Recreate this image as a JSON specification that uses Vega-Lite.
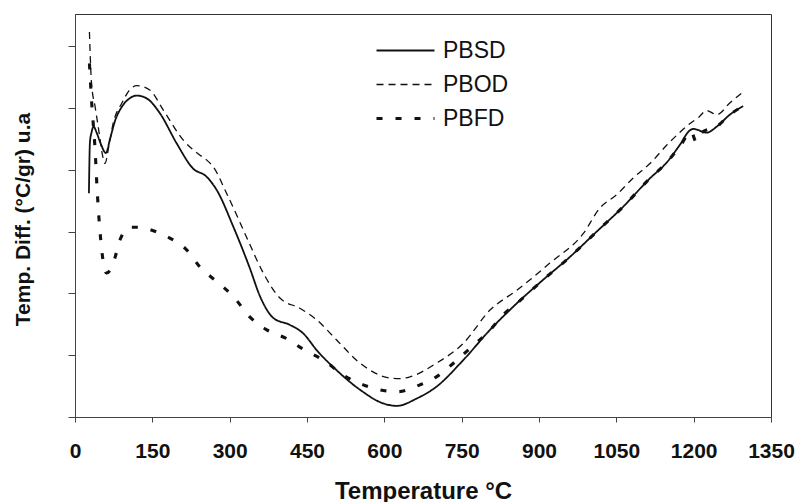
{
  "$schema": "https://vega.github.io/schema/vega-lite/v6.json",
  "width": 696,
  "height": 403,
  "autosize": {"type": "none"},
  "padding": {"left": 75, "top": 14, "right": 26, "bottom": 85},
  "background": "white",
  "config": {"view": {"stroke": "#333", "strokeWidth": 1}, "font": "Liberation Sans"},
  "data": {"values": [
    {"s":"PBSD","T":27,"v":3.62},{"s":"PBSD","T":29,"v":4.45},{"s":"PBSD","T":32,"v":4.60},{"s":"PBSD","T":36,"v":4.70},{"s":"PBSD","T":42,"v":4.60},{"s":"PBSD","T":50,"v":4.42},{"s":"PBSD","T":60,"v":4.27},{"s":"PBSD","T":68,"v":4.50},{"s":"PBSD","T":78,"v":4.80},{"s":"PBSD","T":91,"v":5.02},{"s":"PBSD","T":105,"v":5.15},{"s":"PBSD","T":120,"v":5.20},{"s":"PBSD","T":140,"v":5.15},{"s":"PBSD","T":165,"v":4.91},{"s":"PBSD","T":197,"v":4.43},{"s":"PBSD","T":229,"v":4.02},{"s":"PBSD","T":255,"v":3.89},{"s":"PBSD","T":275,"v":3.67},{"s":"PBSD","T":307,"v":3.08},{"s":"PBSD","T":339,"v":2.41},{"s":"PBSD","T":359,"v":1.95},{"s":"PBSD","T":385,"v":1.60},{"s":"PBSD","T":417,"v":1.49},{"s":"PBSD","T":443,"v":1.35},{"s":"PBSD","T":469,"v":1.08},{"s":"PBSD","T":507,"v":0.76},{"s":"PBSD","T":553,"v":0.44},{"s":"PBSD","T":598,"v":0.22},{"s":"PBSD","T":624,"v":0.18},{"s":"PBSD","T":663,"v":0.30},{"s":"PBSD","T":701,"v":0.49},{"s":"PBSD","T":753,"v":0.92},{"s":"PBSD","T":805,"v":1.41},{"s":"PBSD","T":857,"v":1.84},{"s":"PBSD","T":908,"v":2.22},{"s":"PBSD","T":960,"v":2.59},{"s":"PBSD","T":1012,"v":3.00},{"s":"PBSD","T":1063,"v":3.40},{"s":"PBSD","T":1115,"v":3.86},{"s":"PBSD","T":1148,"v":4.12},{"s":"PBSD","T":1173,"v":4.40},{"s":"PBSD","T":1193,"v":4.64},{"s":"PBSD","T":1200,"v":4.66},{"s":"PBSD","T":1225,"v":4.60},{"s":"PBSD","T":1245,"v":4.70},{"s":"PBSD","T":1270,"v":4.89},{"s":"PBSD","T":1296,"v":5.03},
    {"s":"PBOD","T":28,"v":6.23},{"s":"PBOD","T":32,"v":5.40},{"s":"PBOD","T":39,"v":5.02},{"s":"PBOD","T":45,"v":4.70},{"s":"PBOD","T":54,"v":4.21},{"s":"PBOD","T":58,"v":4.10},{"s":"PBOD","T":66,"v":4.40},{"s":"PBOD","T":74,"v":4.75},{"s":"PBOD","T":91,"v":5.08},{"s":"PBOD","T":105,"v":5.28},{"s":"PBOD","T":120,"v":5.36},{"s":"PBOD","T":145,"v":5.29},{"s":"PBOD","T":171,"v":4.97},{"s":"PBOD","T":210,"v":4.48},{"s":"PBOD","T":240,"v":4.25},{"s":"PBOD","T":255,"v":4.16},{"s":"PBOD","T":268,"v":4.05},{"s":"PBOD","T":294,"v":3.62},{"s":"PBOD","T":336,"v":2.85},{"s":"PBOD","T":362,"v":2.38},{"s":"PBOD","T":398,"v":1.92},{"s":"PBOD","T":436,"v":1.76},{"s":"PBOD","T":469,"v":1.57},{"s":"PBOD","T":507,"v":1.25},{"s":"PBOD","T":553,"v":0.87},{"s":"PBOD","T":611,"v":0.63},{"s":"PBOD","T":630,"v":0.62},{"s":"PBOD","T":650,"v":0.65},{"s":"PBOD","T":701,"v":0.87},{"s":"PBOD","T":753,"v":1.19},{"s":"PBOD","T":805,"v":1.73},{"s":"PBOD","T":857,"v":2.05},{"s":"PBOD","T":921,"v":2.49},{"s":"PBOD","T":986,"v":2.97},{"s":"PBOD","T":1018,"v":3.38},{"s":"PBOD","T":1051,"v":3.60},{"s":"PBOD","T":1083,"v":3.87},{"s":"PBOD","T":1115,"v":4.10},{"s":"PBOD","T":1148,"v":4.40},{"s":"PBOD","T":1175,"v":4.62},{"s":"PBOD","T":1193,"v":4.75},{"s":"PBOD","T":1210,"v":4.85},{"s":"PBOD","T":1225,"v":4.96},{"s":"PBOD","T":1245,"v":4.89},{"s":"PBOD","T":1270,"v":5.08},{"s":"PBOD","T":1296,"v":5.26},
    {"s":"PBFD","T":28,"v":5.72},{"s":"PBFD","T":32,"v":5.13},{"s":"PBFD","T":39,"v":4.32},{"s":"PBFD","T":43,"v":3.67},{"s":"PBFD","T":50,"v":2.86},{"s":"PBFD","T":61,"v":2.33},{"s":"PBFD","T":70,"v":2.40},{"s":"PBFD","T":78,"v":2.59},{"s":"PBFD","T":87,"v":2.86},{"s":"PBFD","T":107,"v":3.07},{"s":"PBFD","T":125,"v":3.07},{"s":"PBFD","T":142,"v":3.04},{"s":"PBFD","T":178,"v":2.92},{"s":"PBFD","T":217,"v":2.70},{"s":"PBFD","T":242,"v":2.43},{"s":"PBFD","T":275,"v":2.19},{"s":"PBFD","T":307,"v":1.95},{"s":"PBFD","T":339,"v":1.62},{"s":"PBFD","T":372,"v":1.41},{"s":"PBFD","T":410,"v":1.27},{"s":"PBFD","T":446,"v":1.08},{"s":"PBFD","T":482,"v":0.92},{"s":"PBFD","T":520,"v":0.68},{"s":"PBFD","T":559,"v":0.52},{"s":"PBFD","T":598,"v":0.43},{"s":"PBFD","T":627,"v":0.41},{"s":"PBFD","T":669,"v":0.52},{"s":"PBFD","T":701,"v":0.65},{"s":"PBFD","T":734,"v":0.87},{"s":"PBFD","T":766,"v":1.11},{"s":"PBFD","T":802,"v":1.38},{"s":"PBFD","T":834,"v":1.68},{"s":"PBFD","T":860,"v":1.86},{"s":"PBFD","T":908,"v":2.22},{"s":"PBFD","T":960,"v":2.59},{"s":"PBFD","T":1012,"v":3.00},{"s":"PBFD","T":1063,"v":3.40},{"s":"PBFD","T":1115,"v":3.86},{"s":"PBFD","T":1148,"v":4.12},{"s":"PBFD","T":1175,"v":4.40},{"s":"PBFD","T":1195,"v":4.62},{"s":"PBFD","T":1205,"v":4.45},{"s":"PBFD","T":1215,"v":4.60},{"s":"PBFD","T":1245,"v":4.70},{"s":"PBFD","T":1270,"v":4.89},{"s":"PBFD","T":1296,"v":5.03}
  ]},
  "mark": {"type": "line", "interpolate": "monotone", "color": "#111"},
  "encoding": {
    "x": {
      "field": "T", "type": "quantitative",
      "scale": {"domain": [0, 1350], "nice": false, "zero": false},
      "axis": {
        "title": "Temperature °C", "titleFontSize": 24, "titleFontWeight": "bold", "titleColor": "#111",
        "titleY": 74, "titleBaseline": "middle",
        "values": [0, 150, 300, 450, 600, 750, 900, 1050, 1200, 1350], "format": "d",
        "labelFontSize": 21, "labelFontWeight": "bold", "labelColor": "#111", "labelFlush": false,
        "labelBaseline": "middle", "labelPadding": 29, "tickSize": 5,
        "grid": false, "domainColor": "#444", "tickColor": "#444"
      }
    },
    "y": {
      "field": "v", "type": "quantitative",
      "scale": {"domain": [0, 6.52], "nice": false},
      "axis": {
        "title": "Temp. Diff. (°C/gr)  u.a", "titleFontSize": 21, "titleFontWeight": "bold", "titleColor": "#111",
        "titleX": -52, "titleY": 205, "titleAngle": 270, "titleBaseline": "middle", "titleAlign": "center",
        "values": [0, 1, 2, 3, 4, 5, 6], "labels": false, "tickSize": 7,
        "grid": false, "domainColor": "#444", "tickColor": "#444"
      }
    },
    "strokeDash": {
      "field": "s", "type": "nominal",
      "scale": {"domain": ["PBSD", "PBOD", "PBFD"], "range": [[1, 0], [7, 5], [6, 13]]},
      "legend": {"title": null, "orient": "none", "legendX": 319, "legendY": 25, "padding": 0,
        "symbolType": "M-4,0H4", "symbolSize": 210, "symbolStrokeColor": "#111", "labelFontSize": 23, "labelColor": "#111", "labelOffset": 26, "rowPadding": 10}
    },
    "strokeWidth": {
      "field": "s", "type": "nominal",
      "scale": {"type": "ordinal", "domain": ["PBSD", "PBOD", "PBFD"], "range": [1.8, 1.3, 3.1]},
      "legend": {"title": null, "orient": "none", "legendX": 319, "legendY": 25, "padding": 0,
        "symbolType": "M-4,0H4", "symbolSize": 210, "symbolStrokeColor": "#111", "labelFontSize": 23, "labelColor": "#111", "labelOffset": 26, "rowPadding": 10}
    }
  }
}
